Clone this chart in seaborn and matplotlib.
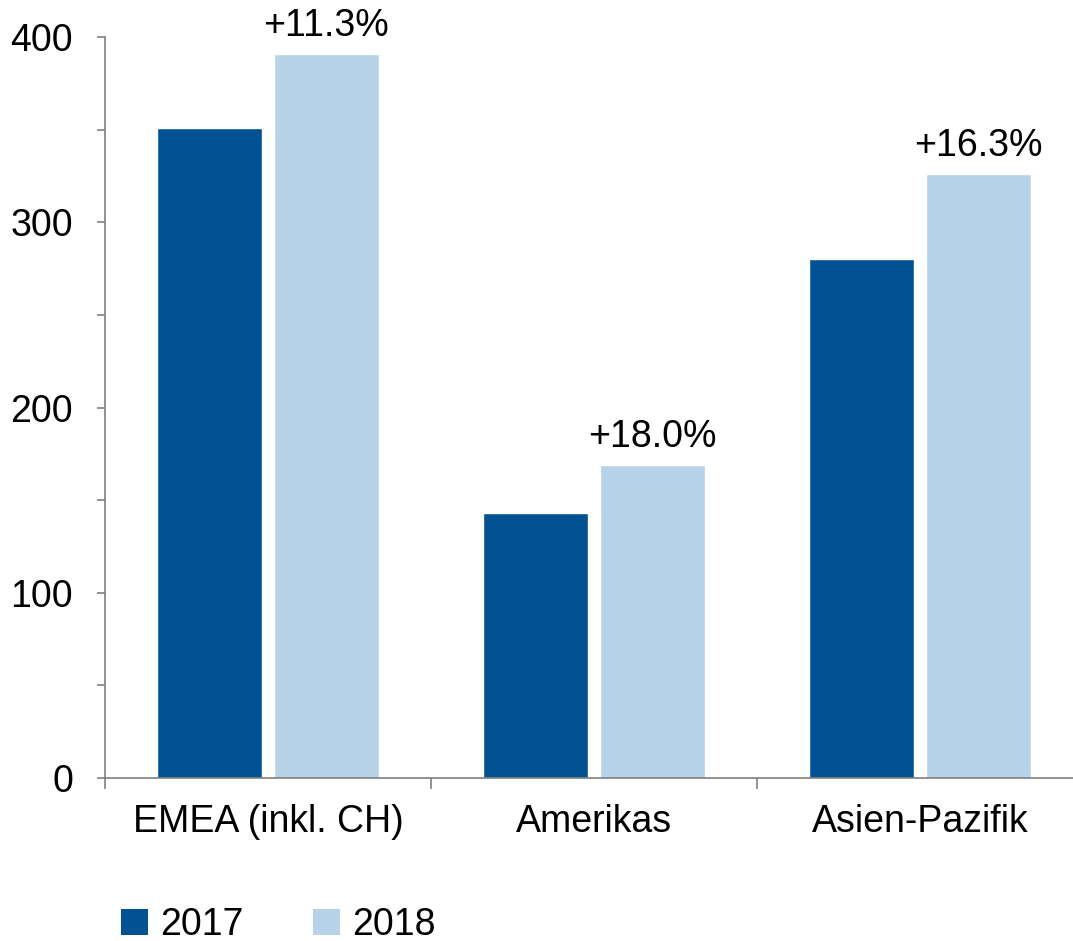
import matplotlib
matplotlib.use("Agg")
import matplotlib.pyplot as plt
import seaborn as sns
import pandas as pd
from matplotlib.patches import Patch
from matplotlib.ticker import MultipleLocator

regions = ["EMEA (inkl. CH)", "Amerikas", "Asien-Pazifik"]
years = ["2017", "2018"]
values_2017 = [351, 143, 280]
values_2018 = [391, 169, 326]
growth_labels = ["+11.3%", "+18.0%", "+16.3%"]
colors = ["#005292", "#B8D2EA"]

df = pd.DataFrame({
    "region": regions * 2,
    "year": [years[0]] * 3 + [years[1]] * 3,
    "value": values_2017 + values_2018,
})

sns.set_theme(style="white")
plt.rcParams["font.family"] = ["Liberation Sans", "DejaVu Sans"]
plt.rcParams["text.color"] = "black"

FS = 27

fig = plt.figure(figsize=(10.73, 9.41), dpi=100)
ax = fig.add_axes([105 / 1073, 1 - 778 / 941, 978 / 1073, (778 - 37) / 941])

sns.barplot(data=df, x="region", y="value", hue="year", palette=colors,
            width=0.712, gap=0.095, ax=ax, legend=False, saturation=1)

ax.set_xlim(-0.5, 2.5)
ax.set_ylim(0, 400)
ax.yaxis.set_major_locator(MultipleLocator(100))
ax.yaxis.set_minor_locator(MultipleLocator(50))
ax.set_xlabel("")
ax.set_ylabel("")

for s in ["top", "right"]:
    ax.spines[s].set_visible(False)
for s in ["left", "bottom"]:
    ax.spines[s].set_color("#7f7f7f")
    ax.spines[s].set_linewidth(1.2)

ax.tick_params(axis="y", which="both", direction="out", length=6, width=1.2,
               color="#7f7f7f", left=True, labelsize=FS, pad=17, labelcolor="black")
ax.tick_params(axis="x", which="major", length=0, labelsize=FS, pad=19, labelcolor="black")
ax.set_xticks([-0.5, 0.5, 1.5, 2.5], minor=True)
ax.tick_params(axis="x", which="minor", direction="out", length=8, width=1.2,
               color="#7f7f7f", bottom=True)

bars2018 = ax.containers[1]
ax.bar_label(bars2018, labels=growth_labels, padding=7, fontsize=FS, color="black")

handles = [Patch(facecolor=c, edgecolor="none") for c in colors]
leg = fig.legend(handles, years, loc="center left", bbox_to_anchor=(0.113, 0.017),
                 ncol=2, frameon=False, fontsize=FS, handlelength=0.72,
                 handleheight=0.72, handletextpad=0.32, columnspacing=1.85,
                 borderaxespad=0, borderpad=0)
for t in leg.get_texts():
    t.set_color("black")

fig.savefig("out.png", dpi=100)
